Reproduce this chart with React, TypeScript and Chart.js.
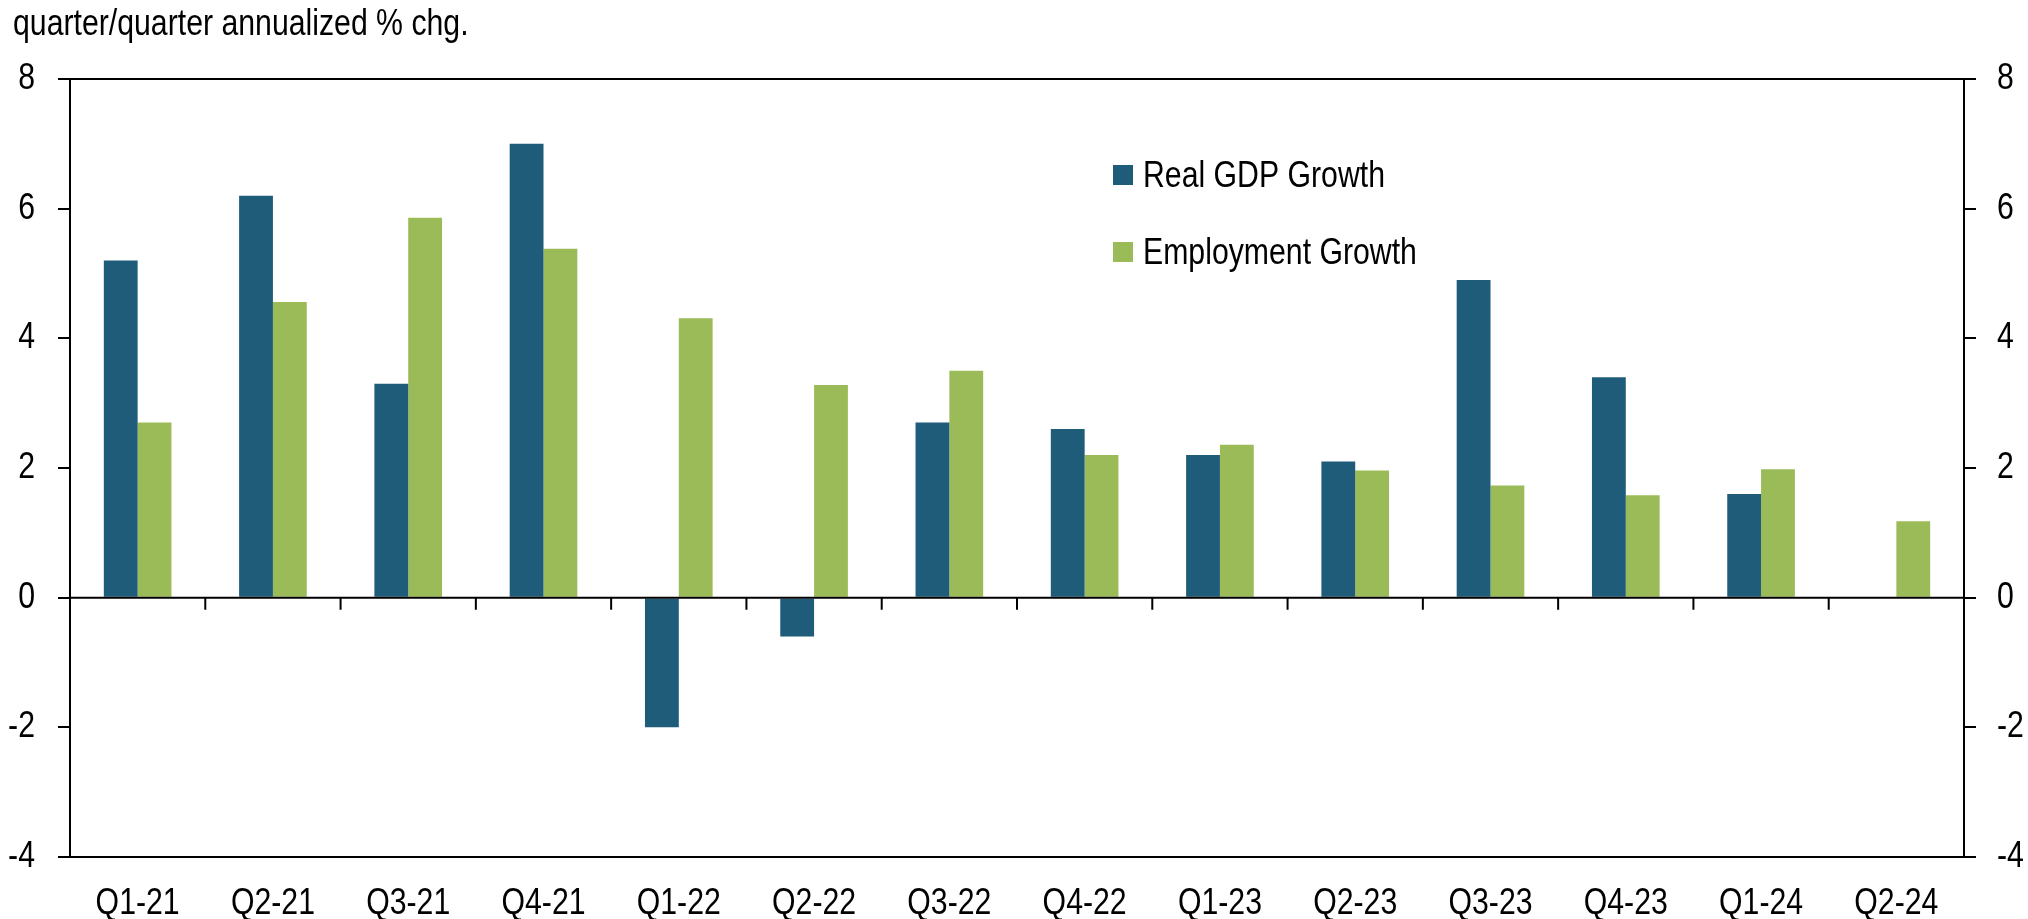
import React, { useEffect, useRef } from "react";
import { Chart, registerables } from "chart.js";

Chart.register(...registerables);

const categories = [
  "Q1-21", "Q2-21", "Q3-21", "Q4-21", "Q1-22", "Q2-22", "Q3-22",
  "Q4-22", "Q1-23", "Q2-23", "Q3-23", "Q4-23", "Q1-24", "Q2-24",
];
const gdpGrowth = [5.2, 6.2, 3.3, 7.0, -2.0, -0.6, 2.7, 2.6, 2.2, 2.1, 4.9, 3.4, 1.6, null];
const employmentGrowth = [2.7, 4.56, 5.86, 5.38, 4.31, 3.28, 3.5, 2.2, 2.36, 1.96, 1.73, 1.58, 1.98, 1.18];
const seriesLabels = ["Real GDP Growth", "Employment Growth"];
const seriesColors = ["#1F5C7A", "#9BBB59"];
const yMin = -4;
const yMax = 8;
const yStep = 2;
const unitTitle = "quarter/quarter annualized % chg.";

const FONT_FAMILY = "'Liberation Sans', Arial, sans-serif";
const FONT_SIZE = 36;
const NARROW = 0.84;

function narrowText(ctx: any, text: string, x: number, y: number, align: string, baseline: string) {
  ctx.save();
  ctx.translate(x, y);
  ctx.scale(NARROW, 1);
  ctx.font = `${FONT_SIZE}px ${FONT_FAMILY}`;
  ctx.fillStyle = "#000";
  ctx.textAlign = align;
  ctx.textBaseline = baseline;
  ctx.fillText(text, 0, 0);
  ctx.restore();
}

const framePlugin = {
  id: "frame",
  afterDatasetsDraw(chart: any) {
    const { ctx, chartArea, scales } = chart;
    const x = scales.x;
    const y = scales.y;
    const y0 = y.getPixelForValue(0);
    ctx.save();
    ctx.strokeStyle = "#000";
    ctx.lineWidth = 2;
    ctx.beginPath();
    ctx.moveTo(chartArea.left, chartArea.top);
    ctx.lineTo(chartArea.right, chartArea.top);
    ctx.moveTo(chartArea.left, y0);
    ctx.lineTo(chartArea.right, y0);
    for (let i = 0; i < categories.length - 1; i++) {
      const xb = (x.getPixelForValue(i) + x.getPixelForValue(i + 1)) / 2;
      ctx.moveTo(xb, y0);
      ctx.lineTo(xb, y0 + 12);
    }
    ctx.stroke();
    ctx.restore();
  },
  afterDraw(chart: any) {
    const { ctx, chartArea, scales } = chart;
    // unit title
    narrowText(ctx, unitTitle, 13, 35, "left", "alphabetic");
    // y tick labels, left and right
    scales.y.ticks.forEach((t: any) => {
      const py = scales.y.getPixelForValue(t.value);
      narrowText(ctx, String(t.value), chartArea.left - 35, py, "right", "middle");
    });
    scales.y2.ticks.forEach((t: any) => {
      const py = scales.y2.getPixelForValue(t.value);
      narrowText(ctx, String(t.value), chartArea.right + 33, py, "left", "middle");
    });
    // x tick labels
    categories.forEach((c, i) => {
      narrowText(ctx, c, scales.x.getPixelForValue(i), chartArea.bottom + 57, "center", "alphabetic");
    });
    // legend
    const lx = 1113;
    const ly = [175, 252];
    chart.data.datasets.forEach((ds: any, i: number) => {
      ctx.save();
      ctx.fillStyle = ds.backgroundColor;
      ctx.fillRect(lx, ly[i] - 10, 20, 20);
      ctx.restore();
      narrowText(ctx, ds.label, lx + 30, ly[i] + 12, "left", "alphabetic");
    });
  },
};

export default function App() {
  const canvasRef = useRef<HTMLCanvasElement | null>(null);

  useEffect(() => {
    if (!canvasRef.current) return;
    const yCommon = {
      min: yMin,
      max: yMax,
      ticks: { stepSize: yStep, display: false },
      grid: { drawOnChartArea: false, drawTicks: true, tickLength: 12, color: "#000", lineWidth: 2 },
      border: { display: true, color: "#000", width: 2 },
    };
    const chart = new Chart(canvasRef.current, {
      type: "bar",
      data: {
        labels: categories,
        datasets: [
          {
            label: seriesLabels[0],
            data: gdpGrowth,
            backgroundColor: seriesColors[0],
            categoryPercentage: 0.5,
            barPercentage: 1.0,
          },
          {
            label: seriesLabels[1],
            data: employmentGrowth,
            backgroundColor: seriesColors[1],
            categoryPercentage: 0.5,
            barPercentage: 1.0,
          },
        ],
      },
      options: {
        animation: false,
        responsive: true,
        maintainAspectRatio: false,
        layout: { padding: { top: 79, left: 0, right: 0, bottom: 0 } },
        plugins: {
          legend: { display: false },
          title: { display: false },
          tooltip: { enabled: false },
        },
        scales: {
          x: {
            grid: { display: false, drawTicks: false },
            border: { display: true, color: "#000", width: 2 },
            ticks: { display: false },
            afterFit: (s: any) => {
              s.height = 62;
            },
          },
          y: {
            ...yCommon,
            position: "left",
            afterFit: (s: any) => {
              s.width = 70;
            },
          },
          y2: {
            ...yCommon,
            position: "right",
            afterFit: (s: any) => {
              s.width = 64;
            },
          },
        },
      } as any,
      plugins: [framePlugin],
    });
    return () => chart.destroy();
  }, []);

  return (
    <div style={{ position: "absolute", left: 0, top: 0, width: 2028, height: 919, background: "#fff" }}>
      <canvas ref={canvasRef} />
    </div>
  );
}
